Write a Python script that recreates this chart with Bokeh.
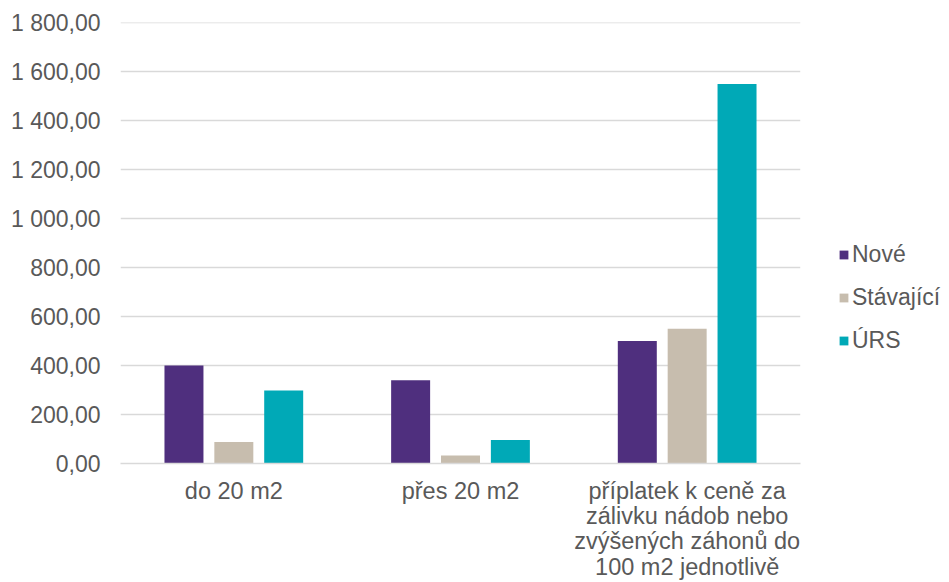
from bokeh.plotting import figure
from bokeh.models import ColumnDataSource, FactorRange, Range1d, Legend, LegendItem, CustomJSTickFormatter, SingleIntervalTicker
from bokeh.transform import dodge
from bokeh.embed import file_html
from bokeh.resources import INLINE

categories = ["do 20 m2", "přes 20 m2",
              "příplatek k ceně za\nzálivku nádob nebo\nzvýšených záhonů do\n100 m2 jednotlivě"]
nove = [400, 340, 500]
stavajici = [88, 33, 550]
urs = [298, 96, 1550]
series_names = ["Nové", "Stávající", "ÚRS"]
colors = ["#4F2F7E", "#C7BDAE", "#00A9B7"]

src = ColumnDataSource(dict(cat=categories, nove=nove, stav=stavajici, urs=urs))

FONT = "Liberation Sans"
p = figure(x_range=FactorRange(*categories), y_range=Range1d(0, 1801),
           frame_width=680, frame_height=441,
           min_border_left=120, min_border_top=22, min_border_right=0, min_border_bottom=119,
           output_backend="svg", toolbar_location=None)
p.outline_line_color = None
p.background_fill_color = "white"

cols = ["nove", "stav", "urs"]
offsets = [-0.22, 0.0, 0.22]
renderers = []
for c, off, col in zip(cols, offsets, colors):
    r = p.vbar(x=dodge("cat", off, range=p.x_range), top=c, width=0.172, source=src,
               fill_color=col, line_color=None)
    renderers.append(r)

p.yaxis.ticker = SingleIntervalTicker(interval=200)
p.yaxis.formatter = CustomJSTickFormatter(code="""
const parts = tick.toFixed(2).split('.');
return parts[0].replace(/\\B(?=(\\d{3})+(?!\\d))/g, ' ') + ',' + parts[1];
""")
for ax in (p.xaxis, p.yaxis):
    ax.major_label_text_font = FONT
    ax.major_label_text_color = "#595959"
    ax.major_tick_line_color = None
    ax.minor_tick_line_color = None
p.xaxis.major_label_text_font_size = "23.5px"
p.yaxis.major_label_text_font_size = "23px"
p.yaxis.axis_line_color = None
p.yaxis.major_tick_out = 0
p.yaxis.minor_tick_out = 0
p.yaxis.major_label_standoff = 20
p.xaxis.axis_line_color = "#D9D9D9"
p.xaxis.axis_line_width = 1.5
p.xaxis.major_label_standoff = 8
p.xaxis.major_label_text_line_height = 0.98
p.xgrid.grid_line_color = None
p.ygrid.grid_line_color = "#D9D9D9"
p.ygrid.grid_line_width = 1.3

legend = Legend(items=[LegendItem(label=n, renderers=[r]) for n, r in zip(series_names, renderers)],
                location=(38, 109), orientation="vertical")
legend.border_line_color = None
legend.background_fill_alpha = 0
legend.padding = 0
legend.margin = 0
legend.glyph_width = 11
legend.glyph_height = 11
legend.label_standoff = 3
legend.spacing = 16
legend.label_text_font = FONT
legend.label_text_font_size = "23px"
legend.label_text_color = "#595959"
p.add_layout(legend, "right")

open("out.html", "w").write(file_html(p, INLINE))
